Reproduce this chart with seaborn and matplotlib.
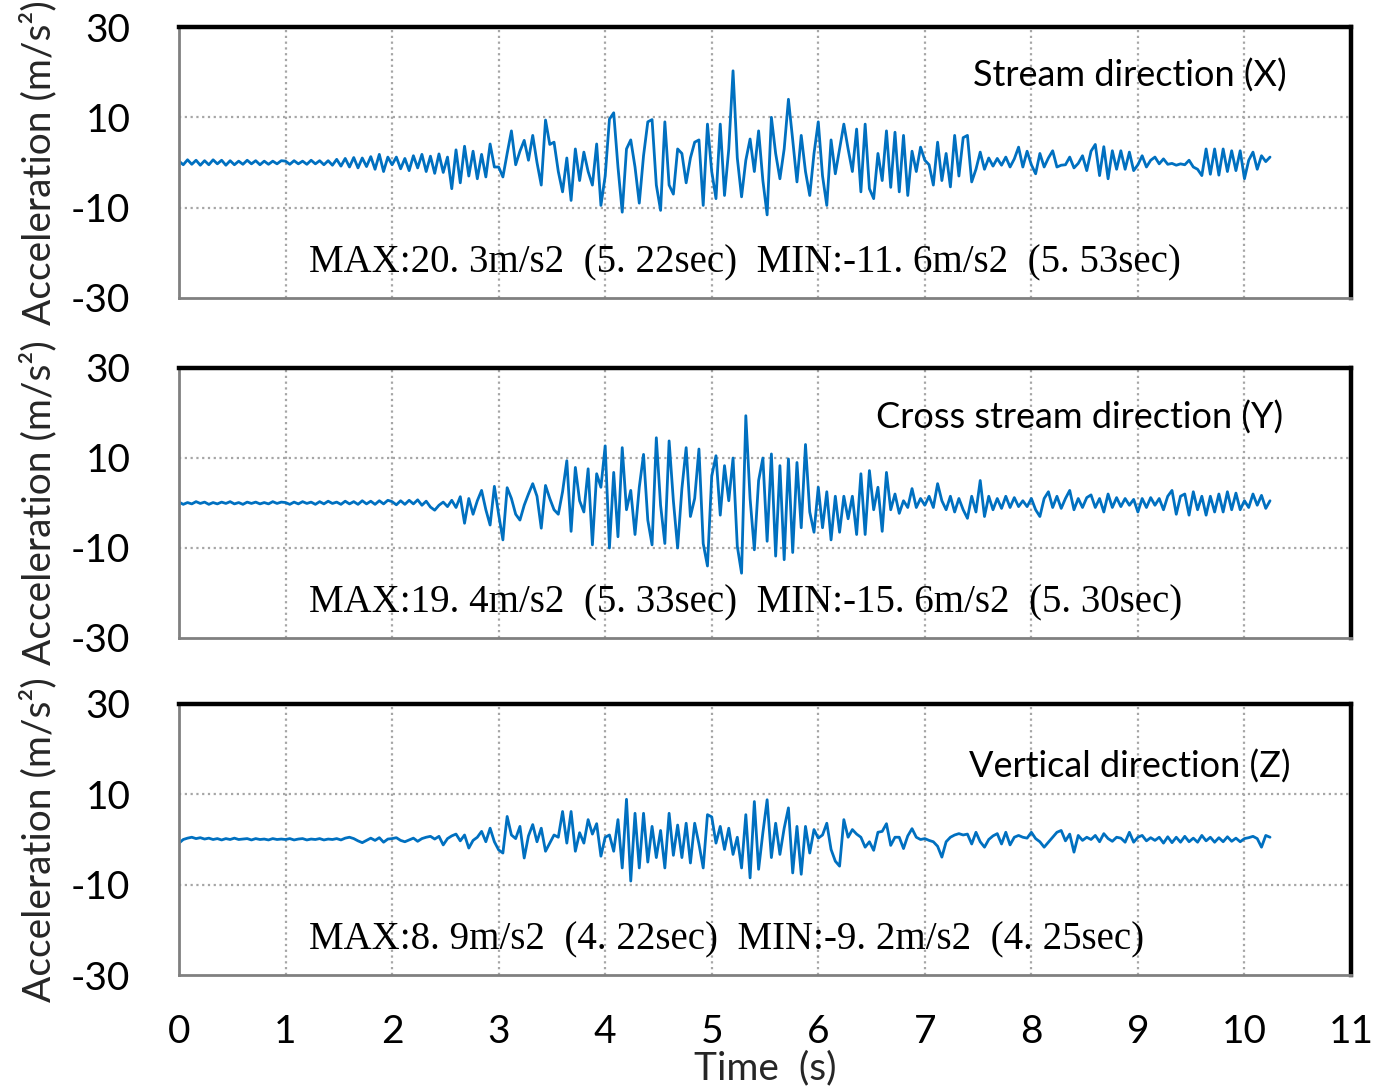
import numpy as np
import pandas as pd
import matplotlib
matplotlib.use("Agg")
import matplotlib.pyplot as plt
import seaborn as sns

dt = 0.04
accel_x = [
    0.3, -0.5, 0.6, -0.4, 0.5, -0.6, 0.4, -0.5, 0.6, -0.3, 0.5, -0.6, 0.4, -0.5, 0.3, -0.4, 0.5, -0.3, 0.4, -0.5, 0.3, -0.4, 0.3, -0.3, 0.4,
    0.3, -0.4, 0.4, -0.3, 0.3, -0.4, 0.5, -0.3, 0.4, -0.5, 0.4, -0.6, 0.7, -0.8, 0.9, -1.0, 1.1, -1.2, 1.0, -0.9, 1.3, -1.5, 1.8, -2.0, 1.2,
    -0.5, 1.2, -1.4, 0.9, -1.8, 1.5, -1.2, 1.8, -2.0, 1.4, -2.4, 1.9, -2.2, 1.2, -5.8, 2.8, -4.5, 3.6, -3.0, 2.5, -3.6, 1.8, -3.2, 4.1, -1.0,
    -1.0, -3.2, 2.0, 7.0, -0.5, 2.5, 4.9, 0.5, 6.0, 0.0, -5.0, 9.4, 4.0, 4.5, -2.0, -6.5, 1.0, -8.4, 3.0, -4.0, 2.3, -2.0, -5.0, 4.1, -9.5,
    -3.0, 9.6, 11.0, -1.0, -11.0, 3.0, 5.0, -1.0, -9.0, 1.5, 9.0, 9.5, -5.0, -10.6, 9.0, -5.0, -7.0, 3.0, 2.0, -4.5, 1.0, 4.5, 5.0, -9.5, 8.5,
    -2.0, -8.0, 8.5, -7.3, 3.0, 20.3, 1.0, -7.6, 0.5, 5.2, -2.0, 7.0, -4.0, -11.6, 10.0, 2.0, -3.6, 3.0, 14.0, 5.0, -4.3, 6.0, -2.0, -7.3, 2.0,
    9.0, -3.0, -9.5, 5.0, -2.5, 3.0, 8.5, 3.0, -2.0, 7.4, -6.5, 8.5, -5.8, -8.0, 2.0, -4.0, 7.0, -5.5, 6.7, -6.5, 6.0, -7.3, 2.5, -2.0, 3.4,
    0.5, -0.5, -5.0, 4.5, -4.0, 2.0, -5.4, 6.0, -3.0, 5.5, 6.0, -4.3, -1.5, 2.3, -1.5, 1.0, -0.8, 0.9, -0.6, 1.2, -1.0, 0.8, 3.4, -1.0, 2.5,
    -0.5, -2.5, 2.0, -1.0, 1.0, 2.6, -1.0, -0.6, -0.5, 1.2, -1.2, -0.2, 1.5, -1.8, 2.5, 4.0, -2.9, 3.5, -3.6, 2.6, -1.5, 2.6, -1.5, 2.3, -1.8,
    -0.5, 1.5, -1.0, 0.5, 1.2, -0.3, 0.8, -0.4, -0.2, -0.6, -0.3, -0.5, 0.5, -1.0, -1.5, -2.9, 3.0, -2.6, 3.0, -2.8, 3.0, -2.0, 2.6, -1.8, 2.6,
    -3.6, 0.5, 2.3, -1.5, 1.5, 0.2, 1.2,
]
accel_y = [
    0.2, -0.3, 0.1, -0.2, 0.3, -0.1, 0.2, -0.3, 0.1, -0.2, 0.2, -0.1, 0.3, -0.2, 0.1, -0.3, 0.2, -0.1, 0.2, -0.2, 0.1, -0.2, 0.3, -0.1, 0.2,
    0.1, -0.3, 0.2, -0.2, 0.3, -0.1, 0.2, -0.3, 0.3, -0.2, 0.4, -0.1, 0.2, -0.3, 0.4, -0.2, 0.3, -0.3, 0.5, -0.2, 0.4, -0.3, 0.5, -0.2, 0.6,
    0.3, -0.4, 0.5, -0.3, 0.6, -0.2, 0.7, -0.5, 0.4, -0.9, -1.6, -0.5, 0.2, -0.8, 0.6, -1.0, 1.4, -4.5, 1.0, -2.5, 0.5, 2.8, -1.5, -4.9, 3.7,
    -2.5, -8.2, 3.4, 1.0, -2.5, -3.8, -0.5, 2.0, 4.3, 1.5, -5.6, 3.9, 1.0, -1.5, -2.5, 2.5, 9.4, -6.3, 7.9, 0.5, -2.0, 7.6, -9.3, 6.5, 3.5,
    12.7, -10.0, 6.8, -7.5, 12.3, -1.5, 2.8, -7.0, 3.5, 10.8, -3.8, -9.3, 14.5, -0.5, -9.0, 13.8, 0.5, -10.0, 3.2, 12.3, -3.0, 1.0, 12.0, -9.0, -14.0,
    6.0, 10.5, -2.7, 8.3, 0.5, 10.0, -9.6, -15.6, 19.4, 1.0, -10.4, 5.0, 10.0, -8.5, 10.9, -11.8, 8.3, -12.6, 9.8, -11.0, 9.0, -5.5, 13.0, -2.0, -6.5,
    3.5, -5.5, 2.5, -8.2, 1.5, -6.5, 1.5, -3.5, 1.5, -7.0, 6.5, -7.0, 7.2, -1.5, 3.5, -6.3, 6.8, -1.5, 2.0, -2.3, 0.5, -1.0, 3.2, -1.0, 1.0,
    -0.5, 1.5, -1.0, 4.3, 0.5, -1.5, 1.5, -2.0, 1.0, -1.5, -3.4, 1.5, -2.0, 5.0, -3.0, 1.5, -1.5, 1.0, -1.2, 1.5, -1.0, 1.2, -0.8, 0.5, -0.8,
    1.0, -1.5, -3.0, 1.0, 2.5, -1.0, 1.5, -1.2, 1.0, 2.8, -1.5, 1.0, -1.0, 1.2, 1.8, -1.0, 1.0, -2.0, 2.0, -1.0, 1.2, -0.8, 1.0, -0.5, 0.8,
    -2.0, 1.0, -1.0, 1.2, -0.5, 1.0, -1.5, 1.5, 2.8, -2.5, 1.5, 2.0, -2.7, 2.5, -1.5, 1.5, -2.7, 1.5, -2.0, 2.0, -2.0, 2.5, -1.5, 2.2, -1.5,
    0.5, -1.0, 2.0, -0.5, 1.7, -1.2, 0.5,
]
accel_z = [
    -0.8, 0.0, 0.3, 0.5, 0.2, 0.4, 0.1, 0.3, 0.0, 0.2, -0.1, 0.2, 0.0, 0.3, 0.0, 0.1, 0.2, -0.1, 0.2, 0.0, 0.1, -0.1, 0.2, 0.0, 0.1,
    0.0, 0.2, -0.1, 0.1, 0.2, -0.1, 0.1, 0.0, 0.2, -0.1, 0.1, 0.0, 0.2, -0.1, 0.3, 0.5, 0.2, -0.3, -0.7, -0.2, 0.3, -0.2, 0.4, -0.6, 0.1,
    0.2, 0.4, -0.2, -0.5, -0.1, 0.3, -0.4, 0.2, 0.5, 0.7, 0.1, 0.7, -1.2, 0.2, 0.8, 1.2, -0.3, 1.0, -1.9, -0.2, 0.5, 1.8, -0.5, 2.5, -0.5,
    -2.3, -3.0, 5.1, 1.0, 0.2, 2.9, -4.1, 0.8, 3.3, -0.5, 2.5, -2.6, -0.8, 1.0, 0.5, 6.2, -0.8, 6.2, -2.6, 1.5, -0.8, 4.4, 1.2, 3.5, -3.7,
    0.5, 1.0, -2.6, 4.4, -6.3, 8.9, -9.2, 5.8, -6.3, 5.8, -5.0, 2.9, -4.0, 2.0, -6.3, 5.8, -3.5, 3.2, -4.0, 3.6, -5.2, 3.6, -1.0, -6.3, 5.5,
    5.0, -0.8, 2.9, -2.2, 2.5, -3.3, 0.5, -6.3, 5.5, -8.5, 8.4, -6.6, 1.5, 8.8, -4.0, 3.6, -3.3, 2.5, 7.0, -7.4, 2.9, -7.7, 2.9, -3.0, 2.2,
    0.3, 1.0, 3.6, -2.2, -4.8, -5.9, 4.4, 0.5, 2.2, 1.2, 0.5, -1.7, -0.5, -2.4, 1.6, 1.8, 3.5, -1.3, 0.5, 0.5, -2.0, 0.8, 2.4, 0.5, 0.0,
    0.2, -0.2, -0.5, -1.5, -3.9, -0.5, 0.5, 1.0, 1.3, 1.0, 1.2, -1.0, 1.6, -0.5, -1.7, 0.0, 0.8, 1.3, -1.0, 1.6, -1.2, 0.5, 0.9, 0.5, 0.3,
    1.6, 0.2, -0.5, -1.7, -0.6, 0.5, 1.6, 2.0, -0.3, 1.2, -2.8, 0.9, -0.2, 0.5, 0.0, 0.9, -0.5, 1.3, 0.2, -0.4, 0.5, 0.3, -0.6, 1.6, -0.6,
    0.5, 0.9, -0.3, 0.4, -0.2, 0.5, -0.8, 0.6, -0.7, 0.5, -0.6, 0.7, -0.5, 0.3, -0.6, 0.9, -0.3, 0.5, -0.6, 0.4, -0.5, 0.6, -0.4, 0.3, -0.5,
    0.2, 0.4, 0.7, 0.2, -1.7, 0.9, 0.5,
]
panel_titles = ["Stream direction (X)", "Cross stream direction (Y)", "Vertical direction (Z)"]
max_min_notes = [
    "MAX:20. 3m/s2  (5. 22sec)  MIN:-11. 6m/s2  (5. 53sec)",
    "MAX:19. 4m/s2  (5. 33sec)  MIN:-15. 6m/s2  (5. 30sec)",
    "MAX:8. 9m/s2  (4. 22sec)  MIN:-9. 2m/s2  (4. 25sec)",
]
y_ticks = [-30, -10, 10, 30]
x_ticks = list(range(0, 12))

# ---------------- figure --------------------------------------------------------------
sns.set_style("white")
plt.rcParams["font.family"] = ["Lato", "DejaVu Sans"]
plt.rcParams["axes.unicode_minus"] = False

fig = plt.figure(figsize=(13.75, 10.9), dpi=100)
W, H = 1375.0, 1090.0
left_px, right_px = 179, 1351
panels_px = [(27, 298), (368, 638), (704, 975)]
line_color = "#0070C0"
gray = "#808080"

series = [accel_x, accel_y, accel_z]
title_pos = [(10.4, 19.3), (10.36, 19.0), (10.43, 16.2)]

for i, (top, bot) in enumerate(panels_px):
    ax = fig.add_axes([left_px / W, 1 - bot / H, (right_px - left_px) / W, (bot - top) / H])
    vals = series[i]
    df = pd.DataFrame({"t": np.arange(len(vals)) * dt, "a": vals})
    sns.lineplot(data=df, x="t", y="a", ax=ax, color=line_color, linewidth=2.0,
                 estimator=None, sort=False, zorder=3)
    ax.set_xlim(0, 11)
    ax.set_ylim(-30, 30)
    ax.set_yticks(y_ticks)
    ax.set_xticks(x_ticks)

    # grid: dotted
    for gx in range(1, 11):
        ax.axvline(gx, color="#a6a6a6", linestyle=(0, (1, 1.6)), linewidth=1.6, zorder=1)
    for gy in (-10, 10):
        ax.axhline(gy, color="#a6a6a6", linestyle=(0, (1, 1.6)), linewidth=1.6, zorder=1)

    # spines
    ax.spines["left"].set_color(gray)
    ax.spines["bottom"].set_color(gray)
    ax.spines["left"].set_linewidth(2.0)
    ax.spines["bottom"].set_linewidth(2.0)
    ax.spines["top"].set_color("black")
    ax.spines["right"].set_color("black")
    ax.spines["top"].set_linewidth(3.2)
    ax.spines["right"].set_linewidth(3.2)
    for s in ax.spines.values():
        s.set_zorder(5)

    ax.tick_params(axis="both", direction="out", length=10, width=1.6, color=gray,
                   labelsize=28, labelcolor="black")
    ax.tick_params(axis="y", pad=25)
    ax.tick_params(axis="x", pad=18)
    ax.set_ylabel("Acceleration (m/s²)", fontsize=28, labelpad=10)

    if i < 2:
        ax.set_xticklabels([])
        ax.set_xlabel("")
    else:
        ax.set_xlabel("Time  (s)", fontsize=28, labelpad=0)

    tx, ty = title_pos[i]
    ax.text(tx, ty, panel_titles[i], ha="right", va="center", fontsize=26, color="black")
    ax.text(1.22, -22.3, max_min_notes[i], ha="left", va="center", fontsize=28,
            family=["Liberation Serif", "DejaVu Serif"], color="black")

fig.savefig("out.png", dpi=100)
